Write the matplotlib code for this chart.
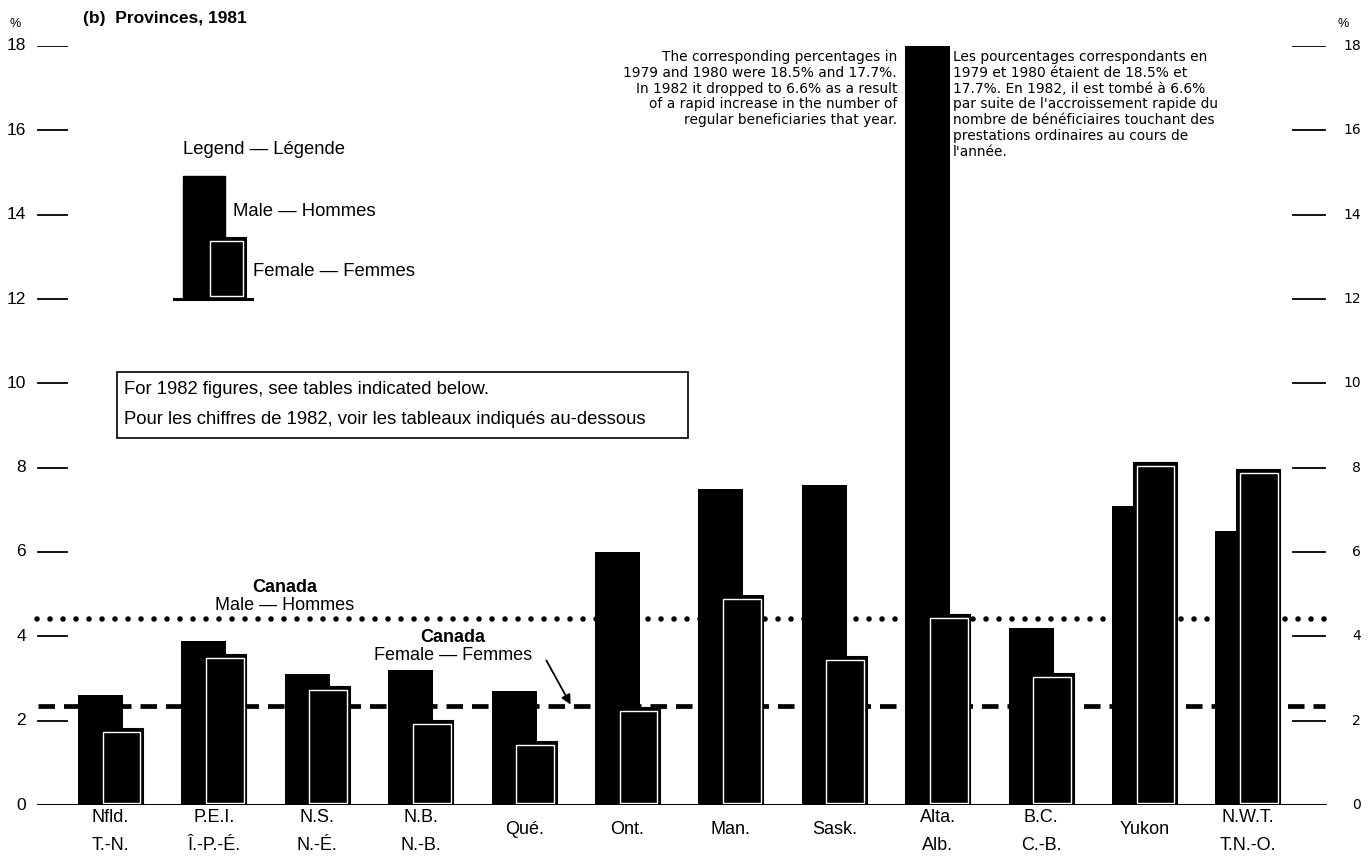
import numpy as np
import matplotlib
matplotlib.use("Agg")
import matplotlib.pyplot as plt
from matplotlib.patches import Rectangle, FancyArrowPatch
from matplotlib.transforms import ScaledTranslation

plt.rcParams['font.family'] = ['Liberation Sans', 'DejaVu Sans']

# data (1981, % of labour force)
prov_en = ["Nfld.", "P.E.I.", "N.S.", "N.B.", "Qué.", "Ont.", "Man.", "Sask.",
           "Alta.", "B.C.", "Yukon", "N.W.T."]
prov_fr = ["T.-N.", "Î.-P.-É.", "N.-É.", "N.-B.", "", "", "", "",
           "Alb.", "C.-B.", "", "T.N.-O."]
male = [2.6, 3.9, 3.1, 3.2, 2.7, 6.0, 7.5, 7.6, 18.0, 4.2, 7.1, 6.5]
female = [1.8, 3.55, 2.8, 2.0, 1.5, 2.3, 4.95, 3.5, 4.5, 3.1, 8.1, 7.95]
canada_male = 4.4
canada_female = 2.35
yticks = [0, 2, 4, 6, 8, 10, 12, 14, 16, 18]

W, H = 1371, 856
fig = plt.figure(figsize=(W / 100, H / 100), dpi=100)

# axes spans the full width; y from 0 (px 805) to 18 (px 46)
ax = fig.add_axes([0, (H - 805) / H, 1, (805 - 46) / H])
step = 103.4   # px between groups
c0 = 110.5     # px centre of first group


def px2x(p):
    return (p - c0) / step


def fx(p):
    return p / W


def fy(p):
    return 1 - p / H


ax.set_xlim(px2x(0), px2x(W))
ax.set_ylim(0, 18)
ax.axis('off')

x = np.arange(len(prov_en))
male = np.array(male)
female = np.array(female)

# Canada averages (behind the bars)
ax.plot([px2x(37), px2x(1325)], [canada_male] * 2, color='black', lw=4.0,
        ls=(0, (0.01, 2.33)), dash_capstyle='round', zorder=1)
ax.plot([px2x(38), px2x(1325)], [canada_female] * 2, color='black', lw=3.4,
        ls=(0, (3.5, 1.9)), zorder=1)

# bars
ax.bar(x - 0.097, male, width=0.435, color='black', zorder=2)
ax.bar(x + 0.106, female, width=0.416, color='black', edgecolor='black',
       lw=1.5, zorder=3)
ax.bar(x + 0.106, female - 0.12, bottom=0.05, width=0.416 - 0.05,
       fill=False, edgecolor='white', lw=1.0, zorder=4)

# baseline
ax.plot([px2x(38), px2x(1325)], [0, 0], color='black', lw=2.2, zorder=5)

# tick marks and labels on both sides
ty = ax.get_yaxis_transform()
for v in yticks:
    if v > 0:
        ax.plot([38 / W, 67 / W], [v, v], color='black', lw=1.3, transform=ty)
        ax.plot([1293 / W, 1325 / W], [v, v], color='black', lw=1.3, transform=ty)
    ax.text(26 / W, v, str(v), ha='right', va='center', fontsize=12.5, transform=ty)
    ax.text(1361 / W, v, str(v), ha='right', va='center', fontsize=10,
            family='DejaVu Sans', transform=ty)

# category labels
for i in x:
    if prov_fr[i]:
        lines = [(prov_en[i], -13), (prov_fr[i], -40)]
    else:
        lines = [(prov_en[i], -25)]
    for s, dy in lines:
        ax.text(i, 0, s, ha='center', va='center', fontsize=13,
                transform=ax.transData + ScaledTranslation(0, dy / 100, fig.dpi_scale_trans))

# title and units
fig.text(fx(83), fy(19), "(b)  Provinces, 1981", fontsize=12.5, fontweight='bold',
         ha='left', va='center')
fig.text(fx(15), fy(24), "%", fontsize=9, ha='center', va='center')
fig.text(fx(1343), fy(24), "%", fontsize=9, ha='center', va='center')

# legend
fig.text(fx(183), fy(150), "Legend — Légende", fontsize=13.3, ha='left', va='center')
fig.add_artist(Rectangle((fx(183), fy(299)), (225 - 183) / W, (299 - 176) / H,
                         transform=fig.transFigure, color='black'))
fig.add_artist(Rectangle((fx(207), fy(299)), (246 - 207) / W, (299 - 238) / H,
                         transform=fig.transFigure, facecolor='black',
                         edgecolor='black', lw=1.5))
fig.add_artist(Rectangle((fx(210), fy(296)), (243 - 210) / W, (296 - 241) / H,
                         transform=fig.transFigure, fill=False,
                         edgecolor='white', lw=1.0))
fig.add_artist(plt.Line2D([fx(174), fx(252)], [fy(299), fy(299)], color='black', lw=2.2))
fig.text(fx(233), fy(212), "Male — Hommes", fontsize=13.3, ha='left', va='center')
fig.text(fx(253), fy(271), "Female — Femmes", fontsize=13.3, ha='left', va='center')

# note box
fig.add_artist(Rectangle((fx(117), fy(438)), (688 - 117) / W, (438 - 372) / H,
                         transform=fig.transFigure, fill=False, edgecolor='black', lw=1.2))
fig.text(fx(124), fy(390), "For 1982 figures, see tables indicated below.",
         fontsize=13.3, ha='left', va='center')
fig.text(fx(124), fy(420), "Pour les chiffres de 1982, voir les tableaux indiqués au-dessous",
         fontsize=13.3, ha='left', va='center')

# Alberta notes
fig.text(fx(897), fy(50),
         "The corresponding percentages in\n1979 and 1980 were 18.5% and 17.7%.\n"
         "In 1982 it dropped to 6.6% as a result\nof a rapid increase in the number of\n"
         "regular beneficiaries that year.",
         fontsize=9.9, family='DejaVu Sans', ha='right', va='top',
         multialignment='right', linespacing=1.165)
fig.text(fx(953), fy(50),
         "Les pourcentages correspondants en\n1979 et 1980 étaient de 18.5% et\n"
         "17.7%. En 1982, il est tombé à 6.6%\npar suite de l'accroissement rapide du\n"
         "nombre de bénéficiaires touchant des\nprestations ordinaires au cours de\nl'année.",
         fontsize=9.9, family='DejaVu Sans', ha='left', va='top', linespacing=1.165)

# Canada labels
fig.text(fx(285), fy(587), "Canada", fontsize=13, fontweight='bold', ha='center', va='center')
fig.text(fx(285), fy(605), "Male — Hommes", fontsize=13, ha='center', va='center')
fig.text(fx(453), fy(637), "Canada", fontsize=13, fontweight='bold', ha='center', va='center')
fig.text(fx(453), fy(656), "Female — Femmes", fontsize=13, ha='center', va='center')
fig.add_artist(FancyArrowPatch(
    (fx(545), fy(658)), (fx(572), fy(707)), transform=fig.transFigure,
    arrowstyle='-|>', mutation_scale=14, color='black', lw=1.3))

fig.savefig("out.png", dpi=100)
